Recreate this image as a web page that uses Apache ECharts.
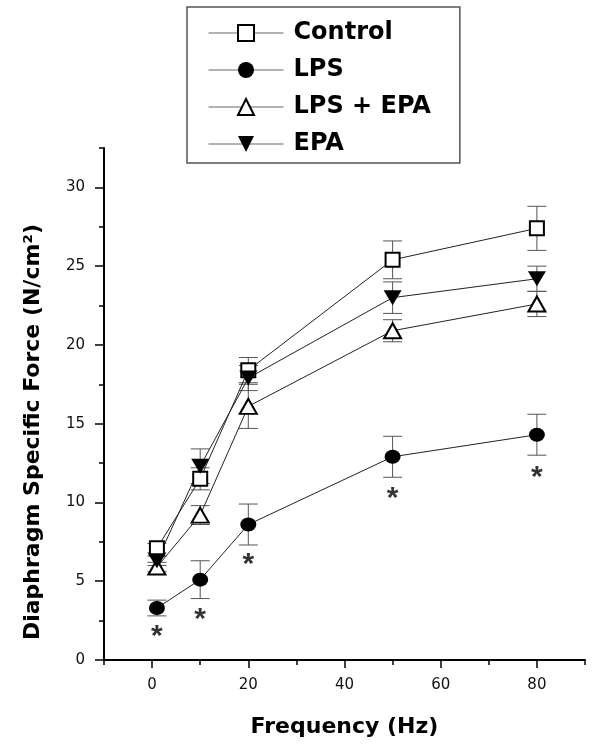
<!DOCTYPE html>
<html><head><meta charset="utf-8">
<script src="https://cdn.jsdelivr.net/npm/echarts@6/dist/echarts.min.js"></script>
<style>html,body{margin:0;padding:0;background:#fff}#c{width:600px;height:746px}</style>
</head><body><div id="c"></div>
<script>
const freq = [1, 10, 20, 50, 80];
const control = [7.1, 11.5, 18.4, 25.4, 27.4];
const controlErr = [0.3, 0.7, 0.8, 1.2, 1.4];
const lps = [3.3, 5.1, 8.6, 12.9, 14.3];
const lpsErr = [0.5, 1.2, 1.3, 1.3, 1.3];
const lpsEpa = [5.9, 9.2, 16.1, 20.9, 22.6];
const lpsEpaErr = [0.3, 0.6, 1.4, 0.7, 0.8];
const epa = [6.3, 12.3, 17.9, 23.0, 24.2];
const epaErr = [0.3, 1.1, 0.8, 1.0, 0.8];
const asteriskY = [1.9, 3.0, 6.5, 10.7, 12.0];
const seriesNames = ['Control', 'LPS', 'LPS + EPA', 'EPA'];
const xMajorTicks = [0, 20, 40, 60, 80];
const xMinorTicks = [-10, 10, 30, 50, 70, 90];
const yMajorTicks = [0, 5, 10, 15, 20, 25, 30];
const yMinorTicks = [2.5, 7.5, 12.5, 17.5, 22.5, 27.5, 32.5];

const FONT = 'DejaVu Sans';
const chart = echarts.init(document.getElementById('c'), null, {renderer: 'canvas'});

function pts(vals) { return freq.map((x, i) => [x, vals[i]]); }
function errPts(vals, errs) { return freq.map((x, i) => [x, vals[i] - errs[i], vals[i] + errs[i]]); }

function errRender(params, api) {
  const x = api.value(0), lo = api.value(1), hi = api.value(2);
  const a = api.coord([x, lo]), b = api.coord([x, hi]);
  const hw = 9.5;
  const st = {stroke: '#555', lineWidth: 1, fill: null};
  return {type: 'group', children: [
    {type: 'line', shape: {x1: a[0], y1: a[1], x2: b[0], y2: b[1]}, style: st},
    {type: 'line', shape: {x1: a[0] - hw, y1: a[1], x2: a[0] + hw, y2: a[1]}, style: st},
    {type: 'line', shape: {x1: b[0] - hw, y1: b[1], x2: b[0] + hw, y2: b[1]}, style: st}
  ]};
}
function errSeries(vals, errs) {
  return {type: 'custom', renderItem: errRender, data: errPts(vals, errs),
    encode: {x: 0, y: [1, 2]}, z: 1, silent: true, clip: false};
}
const lineStyle = {color: '#222', width: 1};
const openItem = {color: '#fff', borderColor: '#000', borderWidth: 2};
const fillItem = {color: '#000', borderColor: '#000', borderWidth: 0};

const option = {
  animation: false,
  backgroundColor: '#fff',
  grid: {left: 104, right: 15, top: 148, bottom: 86},
  legend: {
    orient: 'vertical', left: 187, top: 7, padding: [14, 29, 7, 21],
    itemWidth: 75, itemHeight: 20, itemGap: 13,
    borderColor: '#555', borderWidth: 1.5, backgroundColor: '#fff',
    data: seriesNames,
    textStyle: {fontFamily: FONT, fontWeight: 'bold', fontSize: 24, color: '#000', padding: [0, 0, 0, 5]},
    lineStyle: {color: '#666', width: 1},
    selectedMode: false
  },
  xAxis: [
    {type: 'value', min: -10, max: 90, position: 'bottom',
      axisLine: {onZero: false, lineStyle: {color: '#000', width: 2}},
      axisTick: {customValues: xMajorTicks, length: 8, lineStyle: {color: '#000', width: 1.5}},
      axisLabel: {customValues: xMajorTicks, margin: 18, fontFamily: FONT, fontSize: 15, color: '#111'},
      splitLine: {show: false},
      name: 'Frequency (Hz)', nameLocation: 'middle', nameGap: 56,
      nameTextStyle: {fontFamily: FONT, fontWeight: 'bold', fontSize: 22, color: '#000'}},
    {type: 'value', min: -10, max: 90, position: 'bottom',
      axisLine: {show: false, onZero: false},
      axisTick: {customValues: xMinorTicks, length: 5, lineStyle: {color: '#000', width: 1.5}},
      axisLabel: {show: false}, splitLine: {show: false}}
  ],
  yAxis: [
    {type: 'value', min: 0, max: 32.5, position: 'left',
      axisLine: {show: true, onZero: false, lineStyle: {color: '#000', width: 2}},
      axisTick: {show: true, customValues: yMajorTicks, length: 9, lineStyle: {color: '#000', width: 1.5}},
      axisLabel: {customValues: yMajorTicks, margin: 19, fontFamily: FONT, fontSize: 15, color: '#111'},
      splitLine: {show: false},
      name: 'Diaphragm Specific Force (N/cm²)', nameLocation: 'middle', nameGap: 60,
      nameTextStyle: {fontFamily: FONT, fontWeight: 'bold', fontSize: 22, color: '#000', padding: [0, 56, 0, 0]}},
    {type: 'value', min: 0, max: 32.5, position: 'left',
      axisLine: {show: false, onZero: false},
      axisTick: {show: true, customValues: yMinorTicks, length: 5, lineStyle: {color: '#000', width: 1.5}},
      axisLabel: {show: false}, splitLine: {show: false}}
  ],
  series: [
    errSeries(control, controlErr),
    errSeries(lps, lpsErr),
    errSeries(lpsEpa, lpsEpaErr),
    errSeries(epa, epaErr),
    {name: 'Control', type: 'line', data: pts(control), symbol: 'rect', symbolSize: 14,
      itemStyle: openItem, lineStyle: lineStyle, z: 3, silent: true},
    {name: 'LPS', type: 'line', data: pts(lps), symbol: 'circle', symbolSize: [16, 14],
      itemStyle: fillItem, lineStyle: lineStyle, z: 3, silent: true},
    {name: 'LPS + EPA', type: 'line', data: pts(lpsEpa), symbol: 'triangle', symbolSize: [17, 15],
      itemStyle: openItem, lineStyle: lineStyle, z: 3, silent: true},
    {name: 'EPA', type: 'line', data: pts(epa), symbol: 'path://M0,0L20,0L10,17Z', symbolSize: [18, 15],
      itemStyle: fillItem, lineStyle: lineStyle, z: 3, silent: true},
    {type: 'scatter', data: pts(asteriskY), symbol: 'circle', symbolSize: 1,
      itemStyle: {color: 'rgba(0,0,0,0)'}, silent: true, z: 4,
      label: {show: true, position: 'inside', formatter: '*', fontFamily: 'Liberation Sans', fontWeight: 'bold',
        fontSize: 30, color: '#000', offset: [0, 7]}}
  ]
};
chart.setOption(option);
</script>
</body></html>
